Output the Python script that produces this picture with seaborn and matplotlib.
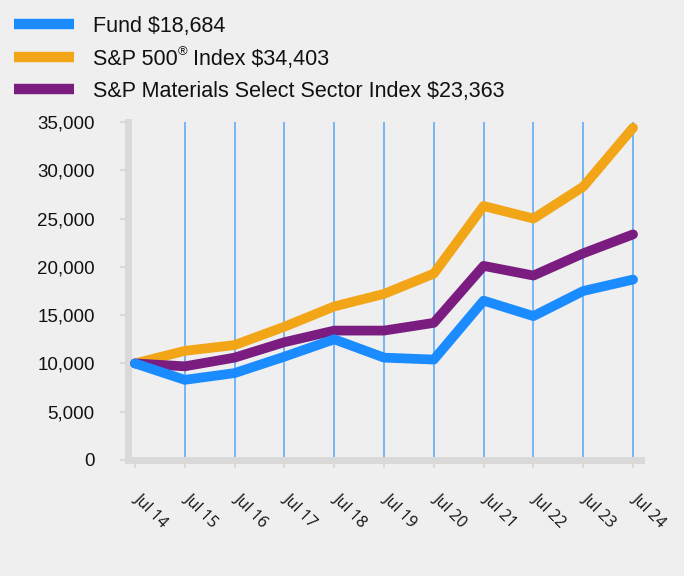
import matplotlib
matplotlib.use("Agg")
import matplotlib.pyplot as plt
import matplotlib.transforms as mtransforms
import seaborn as sns
import pandas as pd
from matplotlib.lines import Line2D

years = ["Jul 14", "Jul 15", "Jul 16", "Jul 17", "Jul 18", "Jul 19",
         "Jul 20", "Jul 21", "Jul 22", "Jul 23", "Jul 24"]
fund = [10000, 8300, 9000, 10700, 12500, 10600, 10400, 16500, 14900, 17500, 18684]
sp500 = [10000, 11300, 11900, 13800, 15900, 17200, 19300, 26300, 25000, 28300, 34403]
materials = [10000, 9700, 10600, 12200, 13400, 13400, 14200, 20100, 19100, 21400, 23363]
labels = ["Fund $18,684", "S&P 500\u00ae Index $34,403",
          "S&P Materials Select Sector Index $23,363"]
colors = ["#1a8cff", "#f2a516", "#7a1c80"]
yticks = [0, 5000, 10000, 15000, 20000, 25000, 30000, 35000]

rows = []
for name, vals in zip(labels, [fund, sp500, materials]):
    for i, v in enumerate(vals):
        rows.append({"idx": i, "value": v, "series": name})
df = pd.DataFrame(rows)

sns.set_theme(style="white")
plt.rcParams["font.family"] = ["Liberation Sans", "DejaVu Sans"]
bg = "#efefef"
W, H = 684, 576
fig = plt.figure(figsize=(W / 100, H / 100), dpi=100, facecolor=bg)
ax = fig.add_axes([128/W, 1-460/H, (641-128)/W, (460-122)/H])
ax.set_facecolor(bg)

# draw order: S&P 500 bottom, materials middle, fund top
draw_order = [labels[1], labels[2], labels[0]]
draw_colors = [colors[1], colors[2], colors[0]]
sns.lineplot(data=df, x="idx", y="value", hue="series", hue_order=draw_order,
             palette=draw_colors, linewidth=7, ax=ax, legend=False, zorder=3)

for i in range(1, len(years)):
    ax.axvline(i, color="#6cb0f5", lw=1.3, zorder=0)

ax.set_xlim(-0.14, 10.16)
ax.set_ylim(0, 35000)
ax.set_xlabel("")
ax.set_ylabel("")
for s in ["top", "right"]:
    ax.spines[s].set_visible(False)
for s in ["left", "bottom"]:
    ax.spines[s].set_color("#d9d9d9")
    ax.spines[s].set_linewidth(5)
ax.tick_params(axis="y", which="major", length=6, width=1.5, color="#d9d9d9", pad=18, left=True)
ax.tick_params(axis="x", which="major", length=6, width=1.5, color="#d9d9d9", pad=20, bottom=True)
ax.set_yticks(yticks)
ax.set_yticklabels([f"{t:,}" for t in yticks], fontsize=13.5, color="#111111")
ax.set_xticks(range(len(years)))
ax.set_xticklabels(years, rotation=-45, ha="left", rotation_mode="anchor",
                   fontsize=11.5, family=["Open Sans", "DejaVu Sans"], color="#111111")
offset = mtransforms.ScaledTranslation(7/100, 6/100, fig.dpi_scale_trans)
for lab in ax.get_xticklabels():
    lab.set_transform(lab.get_transform() + offset)

# legend drawn manually (to get the small superscript registered sign)
leg_y = [24, 57, 89]
fs = 15.5
renderer = fig.canvas.get_renderer()
for k, (lab, c) in enumerate(zip(labels, colors)):
    yf = 1 - leg_y[k] / H
    fig.add_artist(Line2D([14/W, 74/W], [yf, yf], color=c, lw=7.5,
                          solid_capstyle="butt", transform=fig.transFigure))
    if "\u00ae" in lab:
        pre, post = lab.split("\u00ae")
        t1 = fig.text(93/W, yf, pre, fontsize=fs, va="center_baseline", ha="left", color="#111111")
        bb = t1.get_window_extent(renderer)
        t2 = fig.text(bb.x1 / W, yf + 6/H, "\u00ae", fontsize=fs*0.6, va="center_baseline",
                      ha="left", color="#111111")
        bb2 = t2.get_window_extent(renderer)
        fig.text(bb2.x1 / W, yf, post, fontsize=fs, va="center_baseline", ha="left", color="#111111")
    else:
        fig.text(93/W, yf, lab, fontsize=fs, va="center_baseline", ha="left", color="#111111")

fig.savefig("out.png", dpi=100, facecolor=bg)
